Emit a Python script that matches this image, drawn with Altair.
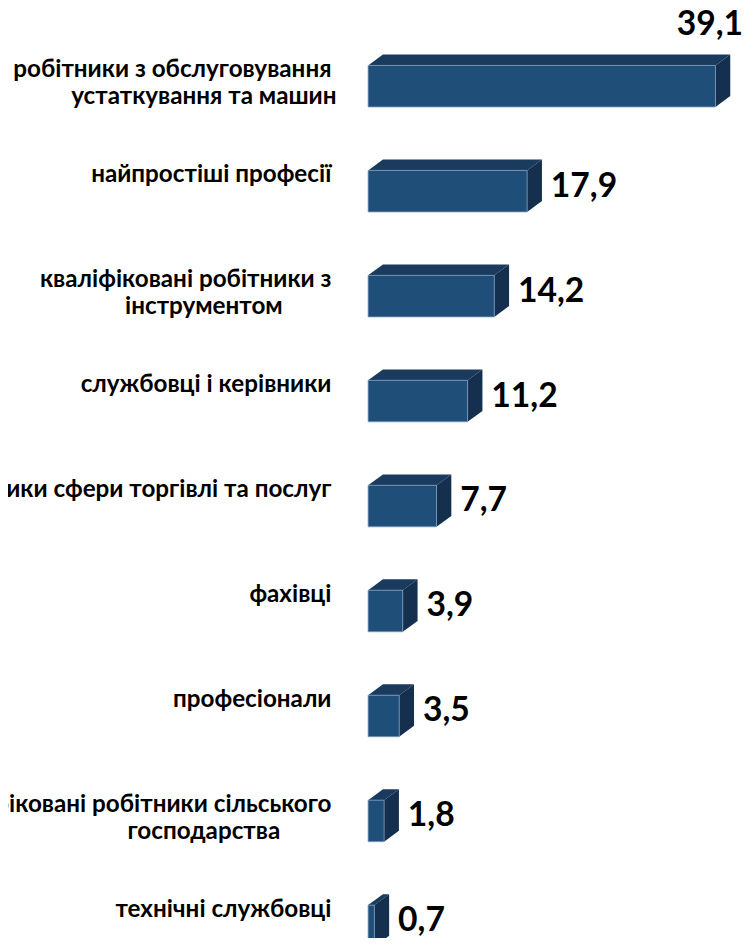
import altair as alt
import pandas as pd

# ---- data ----
categories = [
    "робітники з обслуговування\nустаткування та машин",
    "найпростіші професії",
    "кваліфіковані робітники з\nінструментом",
    "службовці і керівники",
    "працівники сфери торгівлі та послуг",
    "фахівці",
    "професіонали",
    "кваліфіковані робітники сільського\nгосподарства",
    "технічні службовці",
]
values = [39.1, 17.9, 14.2, 11.2, 7.7, 3.9, 3.5, 1.8, 0.7]
value_labels = ["39,1", "17,9", "14,2", "11,2", "7,7", "3,9", "3,5", "1,8", "0,7"]

# ---- style / geometry (pixels) ----
W, H = 745, 930
ZERO_X = 364
PX_PER_UNIT = 8.98
FIRST_TOP = 53
ROW_PX = 106.1
BAR_PX = 42
DEPTH_X_PX = 15
DEPTH_Y_PX = 11
FONT = "Lato"
CAT_SIZE = 24.5
VAL_SIZE = 34
FRONT = "#1f4e79"
TOP = "#1a3a5e"
SIDE = "#15304e"
EDGE = "#7f9cbd"

BH = BAR_PX / ROW_PX
DX = DEPTH_X_PX / PX_PER_UNIT
DY = DEPTH_Y_PX / ROW_PX

rows = list(range(len(values)))
bars = pd.DataFrame({
    "row": rows,
    "category": categories,
    "value": values,
    "label": value_labels,
})
bars["zero"] = 0.0
bars["top"] = bars["row"].astype(float)
bars["bottom"] = bars["row"] + BH
bars["mid"] = bars["row"] + (BH - DY) / 2
bars["end"] = bars["value"] + DX
bars["line1"] = [c.split("\n")[0] for c in categories]
bars["line2"] = [c.split("\n")[1] if "\n" in c else "" for c in categories]

top_rows, side_rows = [], []
for r, v in zip(rows, values):
    top_rows.append({"row": r, "y": r - DY, "xa": DX, "xb": v + DX})
    top_rows.append({"row": r, "y": float(r), "xa": 0.0, "xb": v})
    side_rows.append({"row": r, "x": v, "ya": float(r), "yb": r + BH})
    side_rows.append({"row": r, "x": v + DX, "ya": r - DY, "yb": r + BH - DY})
top_face = pd.DataFrame(top_rows)
side_face = pd.DataFrame(side_rows)

xs = alt.Scale(domain=[0, 40], range=[ZERO_X, ZERO_X + 40 * PX_PER_UNIT], nice=False, zero=False)
ys = alt.Scale(domain=[0, 8], range=[FIRST_TOP, FIRST_TOP + 8 * ROW_PX], nice=False, zero=False)

top_layer = alt.Chart(top_face).mark_area(orient="horizontal", color=TOP).encode(
    y=alt.Y("y:Q", scale=ys, axis=None),
    x=alt.X("xa:Q", scale=xs, axis=None),
    x2="xb:Q",
    detail="row:N",
)
side_layer = alt.Chart(side_face).mark_area(orient="vertical", color=SIDE).encode(
    x=alt.X("x:Q", scale=xs, axis=None),
    y=alt.Y("ya:Q", scale=ys, axis=None),
    y2="yb:Q",
    detail="row:N",
)
front_layer = alt.Chart(bars).mark_rect(color=FRONT, stroke=EDGE, strokeWidth=1, strokeOpacity=0.8).encode(
    x=alt.X("zero:Q", scale=xs, axis=None),
    x2="value:Q",
    y=alt.Y("top:Q", scale=ys, axis=None),
    y2="bottom:Q",
)

cat1 = alt.Chart(bars).mark_text(
    align="right", baseline="middle", dx=-37, dy=5,
    font=FONT, fontSize=CAT_SIZE, fontWeight="bold", color="black",
).encode(
    x=alt.X("zero:Q", scale=xs, axis=None),
    y=alt.Y("top:Q", scale=ys, axis=None),
    text="line1:N",
)
cat2 = alt.Chart(bars).transform_filter("datum.line2 != ''").mark_text(
    align="center", baseline="middle", dx=-166, dy=32,
    font=FONT, fontSize=CAT_SIZE, fontWeight="bold", color="black",
).encode(
    x=alt.X("zero:Q", scale=xs, axis=None),
    y=alt.Y("top:Q", scale=ys, axis=None),
    text="line2:N",
)
val_side = alt.Chart(bars).transform_filter("datum.value < 30").mark_text(
    align="left", baseline="middle", dx=9, dy=1,
    font=FONT, fontSize=VAL_SIZE, fontWeight="bold", color="black",
).encode(
    x=alt.X("end:Q", scale=xs, axis=None),
    y=alt.Y("mid:Q", scale=ys, axis=None),
    text="label:N",
)
val_above = alt.Chart(bars).transform_filter("datum.value >= 30").mark_text(
    align="right", baseline="middle", dx=13, dy=-41,
    font=FONT, fontSize=VAL_SIZE, fontWeight="bold", color="black",
).encode(
    x=alt.X("end:Q", scale=xs, axis=None),
    y=alt.Y("top:Q", scale=ys, axis=None),
    text="label:N",
)

chart = alt.layer(
    top_layer, side_layer, front_layer, cat1, cat2, val_side, val_above
).properties(
    width=W, height=H, autosize=alt.AutoSizeParams(type="none"), padding=0,
).configure_view(strokeWidth=0)

chart.save("out.html", embed_options={"renderer": "svg", "actions": False})
